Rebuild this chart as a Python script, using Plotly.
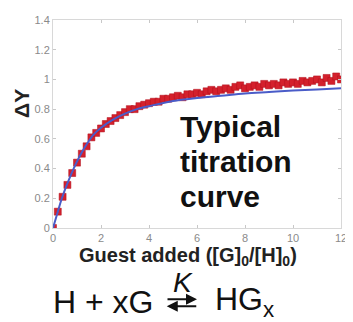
import plotly.graph_objects as go

# Measured titration data (guest equivalents vs. ΔY)
guest_eq = [0.0, 0.2, 0.4, 0.6, 0.8, 1.0, 1.2, 1.4, 1.6, 1.8, 2.0, 2.2, 2.4, 2.6, 2.8,
            3.0, 3.2, 3.4, 3.6, 3.8, 4.0, 4.2, 4.4, 4.6, 4.8, 5.0, 5.2, 5.4, 5.6, 5.8,
            6.0, 6.2, 6.4, 6.6, 6.8, 7.0, 7.2, 7.4, 7.6, 7.8, 8.0, 8.2, 8.4, 8.6, 8.8,
            9.0, 9.2, 9.4, 9.6, 9.8, 10.0, 10.2, 10.4, 10.6, 10.8, 11.0, 11.2, 11.4,
            11.6, 11.8, 12.0]
delta_y = [0.0, 0.11, 0.21, 0.29, 0.37, 0.44, 0.50, 0.55, 0.61, 0.64, 0.67, 0.70, 0.72,
           0.74, 0.76, 0.78, 0.80, 0.80, 0.82, 0.83, 0.84, 0.85, 0.85, 0.87, 0.87, 0.88,
           0.89, 0.88, 0.90, 0.90, 0.91, 0.90, 0.92, 0.93, 0.92, 0.93, 0.94, 0.93, 0.95,
           0.96, 0.94, 0.95, 0.96, 0.95, 0.97, 0.96, 0.97, 0.96, 0.98, 0.97, 0.98, 0.97,
           0.99, 0.98, 0.99, 1.00, 0.98, 1.01, 0.99, 1.02, 1.00]

# Fitted binding curve
fit_x = [0.0, 0.2, 0.37, 0.6, 0.86, 1.1, 1.43, 1.7, 2.0, 2.5, 3.0, 3.5, 4.0, 5.0, 6.0,
         7.0, 8.0, 9.0, 10.0, 11.0, 12.0]
fit_y = [0.0, 0.11, 0.20, 0.30, 0.40, 0.48, 0.57, 0.63, 0.675, 0.73, 0.77, 0.80, 0.82,
         0.855, 0.875, 0.89, 0.905, 0.915, 0.925, 0.933, 0.94]

x_ticks = [0, 2, 4, 6, 8, 10, 12]
y_ticks = [0, 0.2, 0.4, 0.6, 0.8, 1.0, 1.2, 1.4]
y_tick_labels = ["0", "0.2", "0.4", "0.6", "0.8", "1", "1.2", "1.4"]

FONT = "Liberation Sans, Arial"

fig = go.Figure()
fig.add_trace(go.Scatter(
    x=guest_eq, y=delta_y, mode="markers",
    marker=dict(symbol="square", size=7, color="#d4202c",
                line=dict(color="#b0101c", width=0.5)),
    showlegend=False))
fig.add_trace(go.Scatter(
    x=fit_x, y=fit_y, mode="lines", line=dict(color="#4a5cc8", width=2, shape="spline"),
    showlegend=False))

axis_common = dict(showline=True, linecolor="#d8d8d8", linewidth=1, mirror="ticks",
                   ticks="inside", ticklen=3, tickcolor="#c8c8c8", showgrid=False,
                   zeroline=False,
                   tickfont=dict(family=FONT, size=11, color="#8a8a8a"))

def note(text, x, y, size, xanchor="left", family=FONT, color="#111"):
    return dict(text=text, xref="paper", yref="paper", x=x, y=y, xanchor=xanchor,
                yanchor="middle", showarrow=False, align="left",
                font=dict(family=family, size=size, color=color))

def eq_arrow(x, y, ax):
    # equilibrium half-arrow drawn as an annotation arrow (pixel offset for the tail)
    return dict(text="", xref="paper", yref="paper", x=x, y=y, ax=ax, ay=0,
                showarrow=True, arrowhead=2, arrowsize=1.1, arrowwidth=2,
                arrowcolor="#111", standoff=0, startstandoff=0)

annotations = [
    dict(text="<b>ΔY</b>", xref="paper", yref="paper", x=-0.112, y=0.60,
         xanchor="center", yanchor="middle", textangle=-90, showarrow=False,
         font=dict(family=FONT, size=21, color="#222")),
    note("<b>Guest added ([G]<sub>0</sub>/[H]<sub>0</sub>)</b>", 0.468, -0.135, 20,
         xanchor="center", color="#222"),
    note("<b>Typical</b>", 0.435, 0.49, 30),
    note("<b>titration</b>", 0.435, 0.322, 30),
    note("<b>curve</b>", 0.435, 0.152, 30),
    note("H + xG", -0.008, -0.355, 32),
    eq_arrow(0.50, -0.343, -31),
    eq_arrow(0.395, -0.376, 31),
    note("<i>K</i>", 0.452, -0.262, 28, xanchor="center"),
    note("HG<sub>x</sub>", 0.555, -0.355, 32),
]

fig.update_layout(
    width=345, height=314,
    margin=dict(l=45, r=6, t=10, b=94),
    paper_bgcolor="white", plot_bgcolor="white",
    xaxis=dict(range=[0, 12], tickvals=x_ticks, **axis_common),
    yaxis=dict(range=[0, 1.4], tickvals=y_ticks, ticktext=y_tick_labels, **axis_common),
    annotations=annotations,
)

fig.write_html("out.html")
